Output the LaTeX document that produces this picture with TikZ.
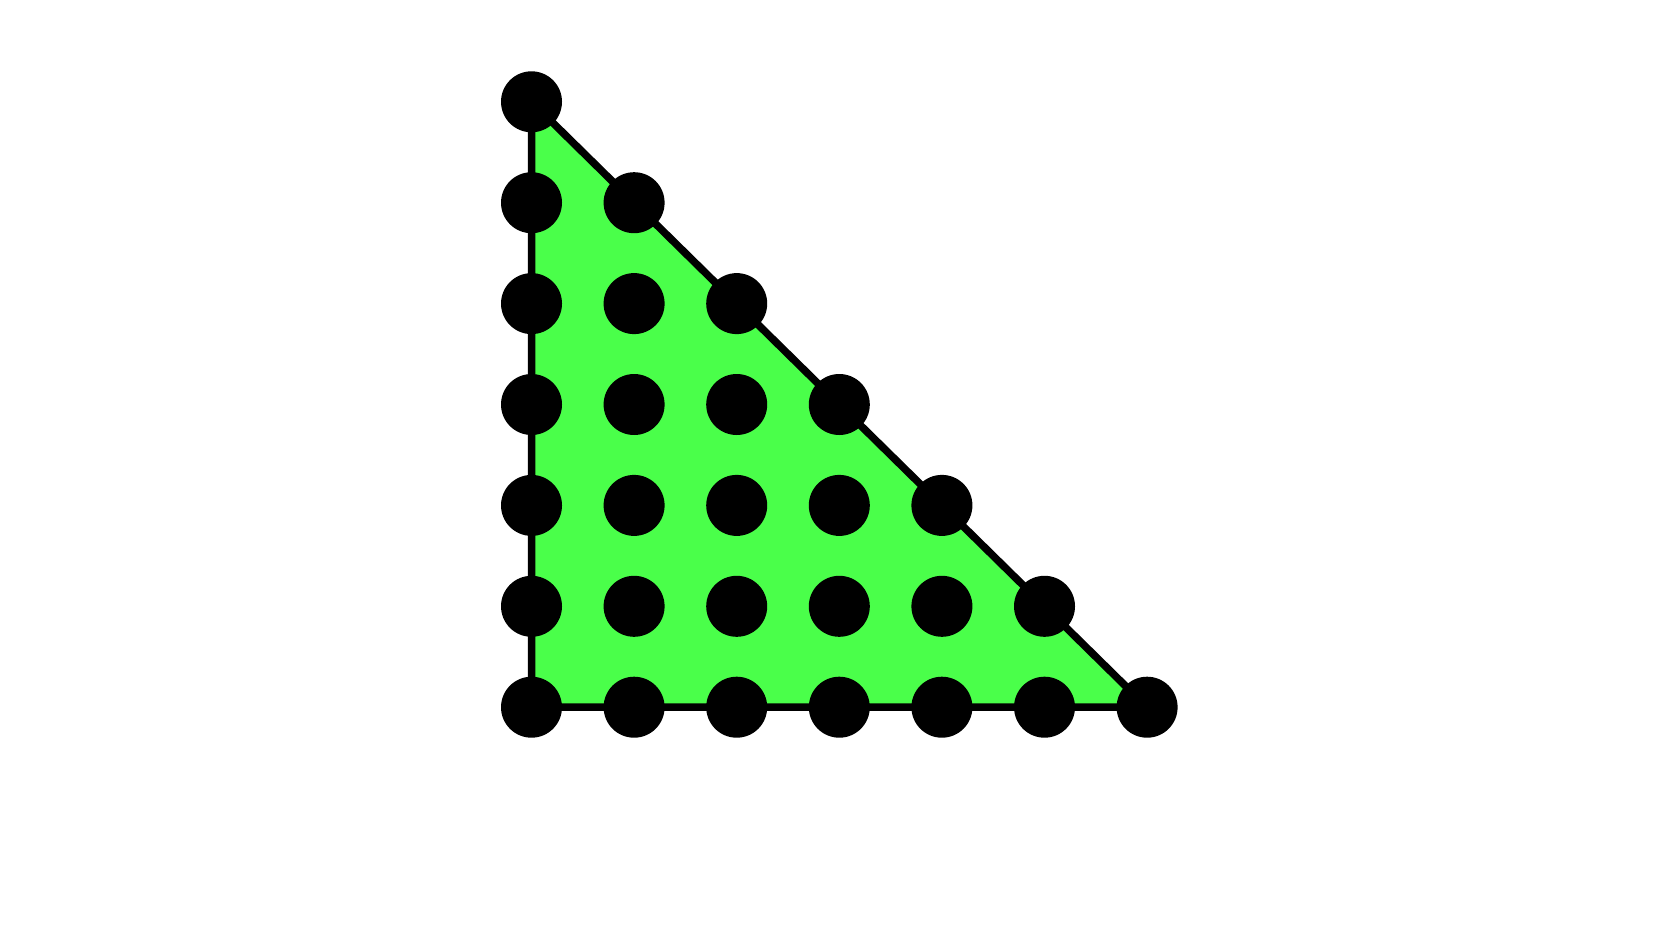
\documentclass[tikz,border=0pt]{standalone}
\definecolor{fillgreen}{RGB}{74,255,74}
\tikzset{
  dot/.style={circle, fill=black, inner sep=0pt, minimum size=61pt},
  edge/.style={draw=black, line width=7.5pt, fill=fillgreen}
}
\begin{document}
\begin{tikzpicture}[x=1pt,y=-1pt]
\useasboundingbox (0,0) rectangle (1680,931);
\coordinate (A) at (531.5,101.8);
\coordinate (B) at (531.5,707.2);
\coordinate (C) at (1147.1,707.2);
\path[edge] (A) -- (B) -- (C) -- cycle;
\foreach \j in {0,...,6}{
  \foreach \i in {0,...,\j}{
    \node[dot] (d-\i-\j) at ({531.5+102.6*\i},{101.8+100.9*\j}) {};
  }
}
\end{tikzpicture}
\end{document}
